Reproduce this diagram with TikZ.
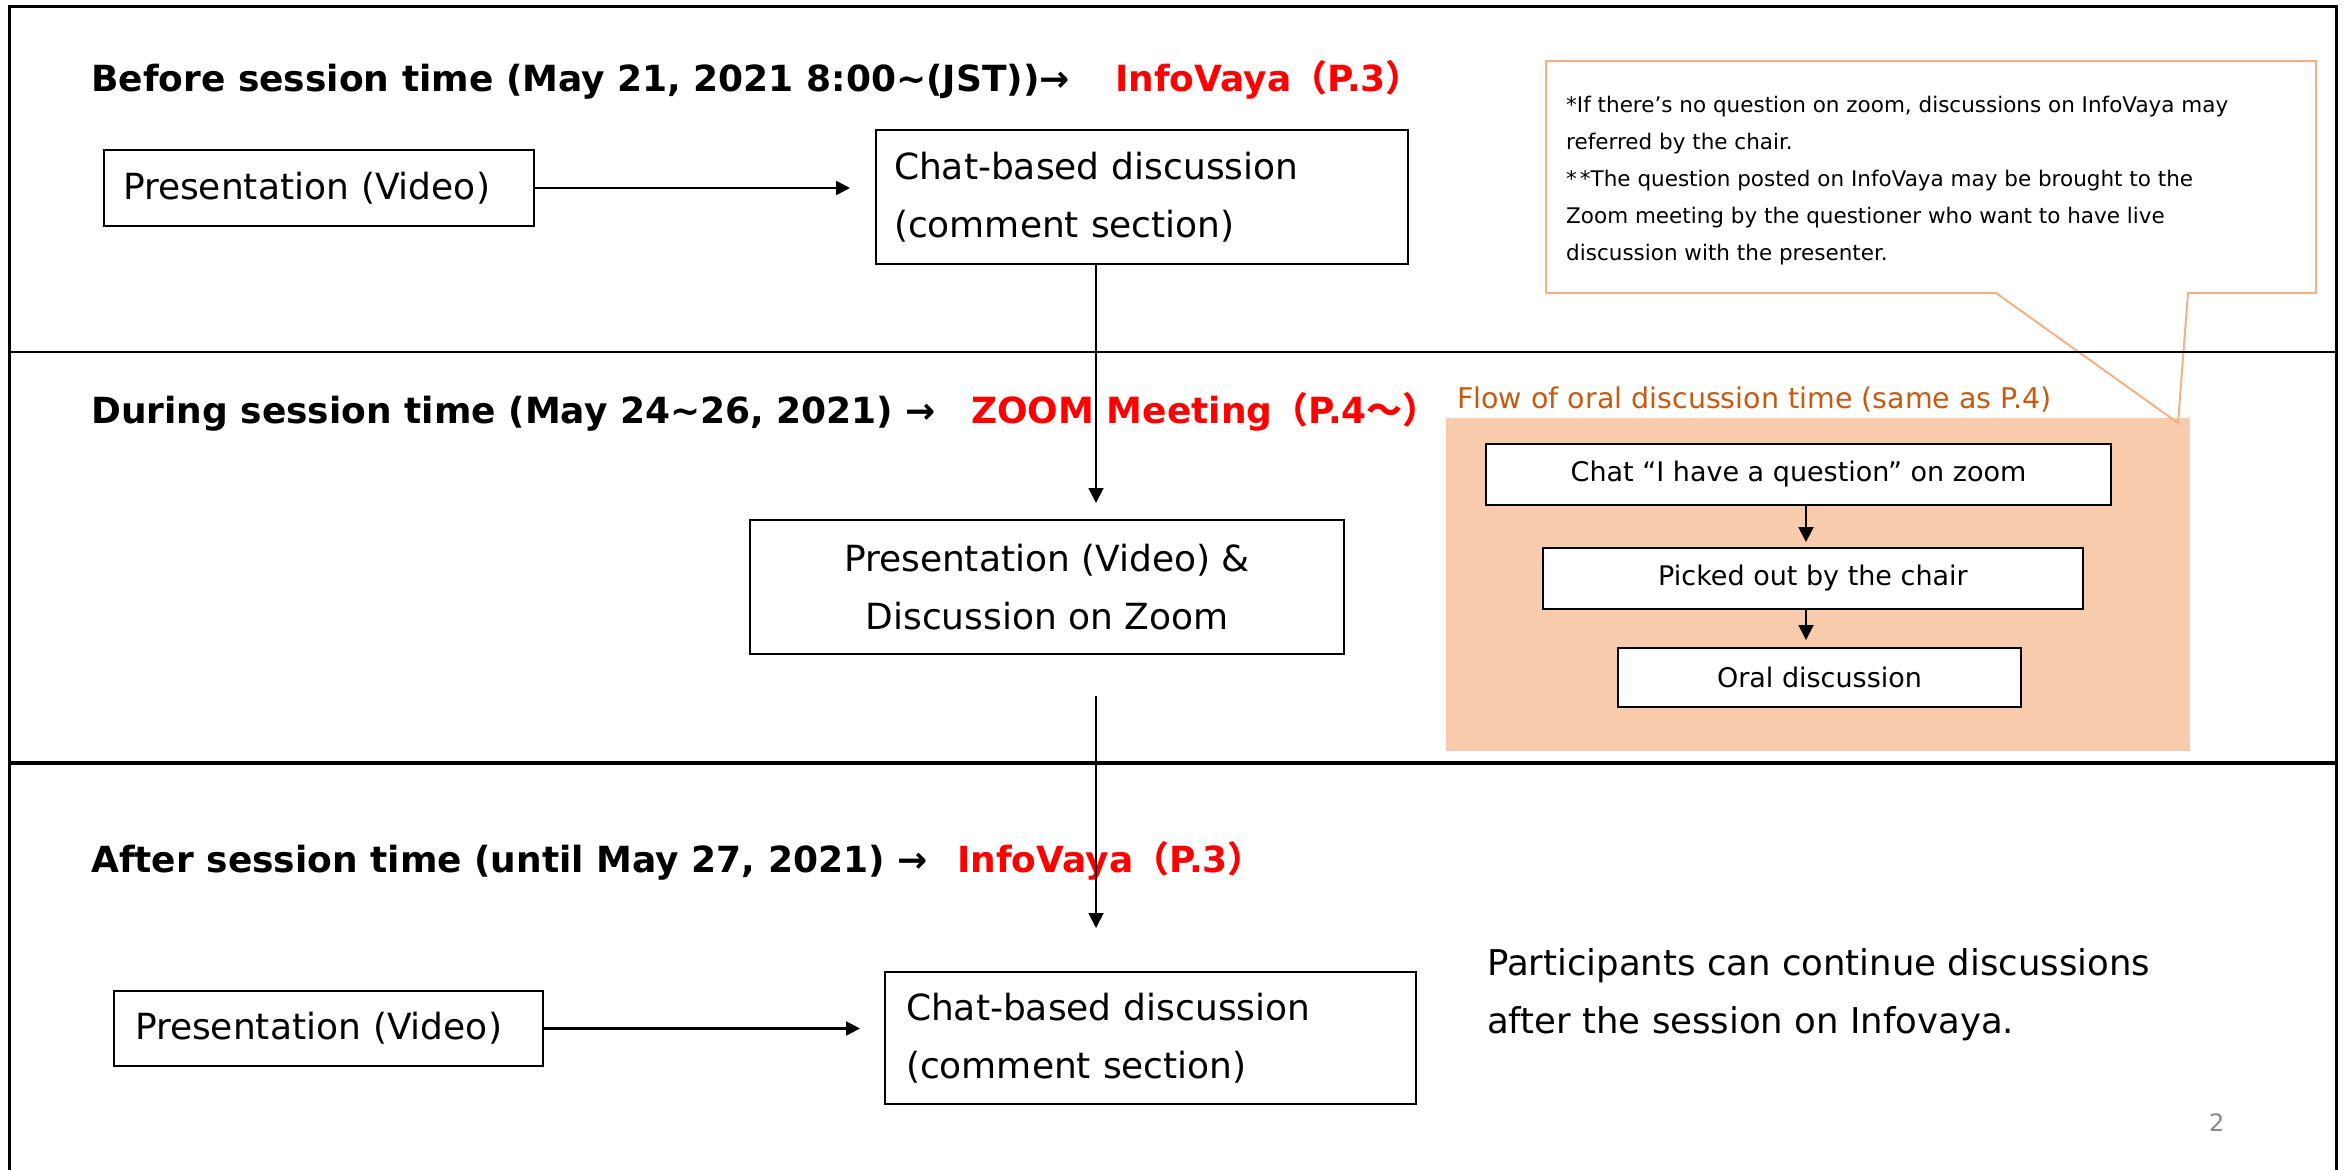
\documentclass[tikz,border=0pt]{standalone}
\usepackage{fontspec}
\setmainfont{DejaVu Sans}
\newfontfamily\cjk{Noto Sans CJK JP}
\usetikzlibrary{arrows.meta}
\definecolor{calloutc}{HTML}{F4B183}
\definecolor{panelc}{HTML}{F8CBAD}
\definecolor{titlec}{HTML}{C55A11}
\definecolor{pgnum}{HTML}{898989}
\definecolor{hred}{HTML}{FF0000}
\begin{document}
\begin{tikzpicture}[x=1pt,y=-1pt,
  hdr/.style={anchor=base west, inner sep=0pt, font=\fontsize{36}{43}\selectfont\bfseries},
  hdrred/.style={hdr, text=hred},
  box/.style={draw, line width=2pt, rectangle, inner ysep=0pt, anchor=north west, font=\fontsize{36}{58}\selectfont},
  flowbox/.style={draw, line width=2pt, fill=white, anchor=north west, inner sep=0pt, font=\fontsize{27}{32}\selectfont},
  arr/.style={-{Triangle[length=14pt,width=14pt]}, line width=2.4pt},
  varr/.style={-{Triangle[length=15pt,width=15pt]}, line width=1.8pt},
  farr/.style={-{Triangle[length=15pt,width=15pt]}, line width=2pt},
  frameline/.style={line width=3pt},
]
\useasboundingbox (0,0) rectangle (2343,1170);
\begin{scope}
\clip (0,0) rectangle (2343,1170);

% flow panel background
\node[fill=panelc, minimum width=744pt, minimum height=333pt, anchor=north west, inner sep=0pt] (panel) at (1446,418) {};
\node[anchor=base west, inner sep=0pt, text=titlec, font=\fontsize{28.5}{34}\selectfont] (ptitle) at (1457,408) {Flow of oral discussion time (same as P.4)};

% callout
\draw[calloutc, line width=2pt, line join=miter] (1546,61) -- (2316,61) -- (2316,293) -- (2188,293) -- (2178,423) -- (1996,293) -- (1546,293) -- cycle;
\node[anchor=north west, inner sep=0pt, align=left, font=\fontsize{21.5}{37}\selectfont] (note) at (1566,96)
  {*If there’s no question on zoom, discussions on InfoVaya may\\referred by the chair.\\*\hspace{3pt}*The question posted on InfoVaya may be brought to the\\Zoom meeting by the questioner who want to have live\\discussion with the presenter.};

% frame and dividers
\draw[frameline] (9,1180) -- (9,6) -- (2336,6) -- (2336,1180);
\draw[line width=2.5pt] (9,352) -- (2336,352);
\draw[line width=4pt] (9,763) -- (2336,763);

% headers
\node[hdr] (h1) at (91,91) {Before session time (May 21, 2021 8:00\textasciitilde(JST))→};
\node[hdrred] (h1r) at (1115,91) {InfoVaya{\cjk （}P.3{\cjk ）}};
\node[hdr] (h2) at (91,423) {During session time (May 24\textasciitilde26, 2021) →};
\node[hdrred] (h2r) at (971,423) {ZOOM Meeting{\cjk （}P.4{\cjk ～）}};
\node[hdr] (h3) at (91,872) {After session time (until May 27, 2021) →};
\node[hdrred] (h3r) at (957,872) {InfoVaya{\cjk （}P.3{\cjk ）}};

% section 1
\node[box, minimum width=430pt, minimum height=76pt, text width=392pt, inner xsep=19pt, align=left] (pv1) at (103,149) {Presentation (Video)};
\node[box, minimum width=532pt, minimum height=134pt, text width=496pt, inner xsep=18pt, align=left] (chat1) at (875,129) {Chat-based discussion\\(comment section)};
\draw[arr, shorten >=25pt] (pv1.east) -- (pv1.east -| chat1.west);

% section 2
\node[box, minimum width=594pt, minimum height=134pt, align=center] (pvd) at (749,519) {Presentation (Video) \&\\Discussion on Zoom};
\coordinate (vx) at (1096,0);

% section 3
\node[box, minimum width=429pt, minimum height=75pt, text width=387pt, inner xsep=21pt, align=left] (pv2) at (113,990) {Presentation (Video)};
\node[box, minimum width=531pt, minimum height=132pt, text width=489pt, inner xsep=21pt, align=left] (chat2) at (884,971) {Chat-based discussion\\(comment section)};
\draw[arr, shorten >=24pt] (pv2.east) -- (pv2.east -| chat2.west);

\draw[varr, shorten >=16pt] (chat1.south -| vx) -- (pvd.north -| vx);
\draw[varr, shorten <=41pt, shorten >=43pt] (pvd.south -| vx) -- (chat2.north -| vx);

% flow boxes
\node[flowbox, minimum width=625pt, minimum height=61pt] (fb1) at (1485,443) {Chat “I have a question” on zoom};
\node[flowbox, minimum width=540pt, minimum height=61pt] (fb2) at (1542,547) {Picked out by the chair};
\node[flowbox, minimum width=403pt, minimum height=59pt] (fb3) at (1617,647) {Oral discussion};
\coordinate (fx) at (1806,0);
\draw[farr, shorten >=5pt] (fb1.south -| fx) -- (fb2.north -| fx);
\draw[farr, shorten >=7pt] (fb2.south -| fx) -- (fb3.north -| fx);

% side text
\node[anchor=north west, inner sep=0pt, align=left, font=\fontsize{35.5}{58}\selectfont] (part) at (1487,948)
  {Participants can continue discussions\\after the session on Infovaya.};

\node[anchor=base west, inner sep=0pt, text=pgnum, font=\fontsize{24}{28}\selectfont] (pg) at (2209,1131) {2};
\end{scope}
\end{tikzpicture}
\end{document}
